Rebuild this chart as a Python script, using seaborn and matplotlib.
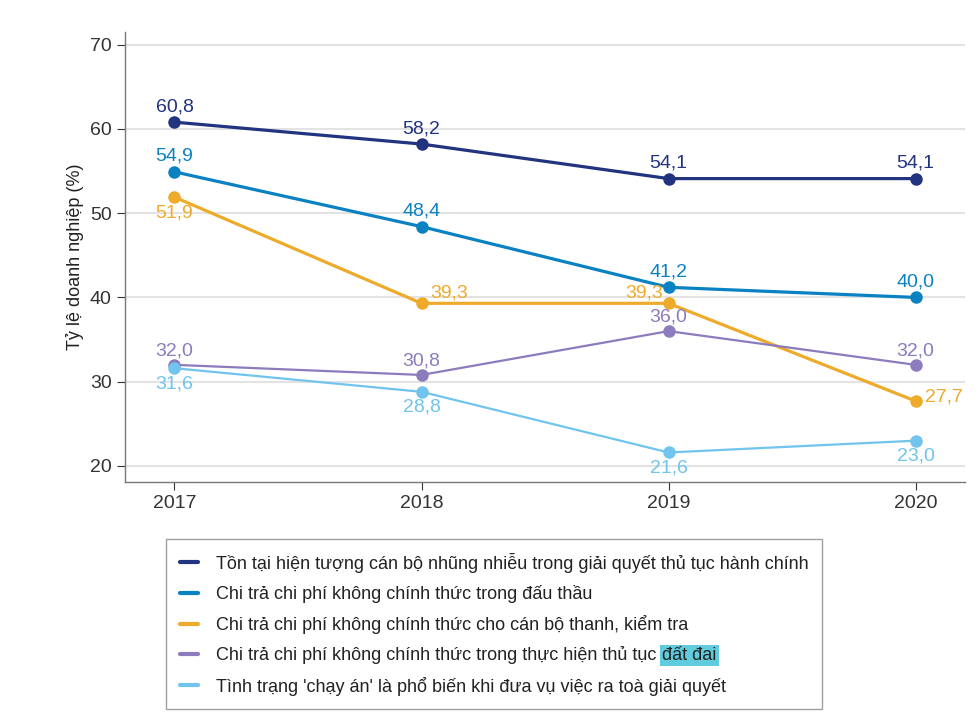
import pandas as pd
import matplotlib
matplotlib.use('Agg')
import matplotlib.pyplot as plt
from matplotlib.lines import Line2D
import seaborn as sns

# Datos
years = [2017, 2018, 2019, 2020]
series_names = [
    "Tồn tại hiện tượng cán bộ nhũng nhiễu trong giải quyết thủ tục hành chính",
    "Chi trả chi phí không chính thức trong đấu thầu",
    "Chi trả chi phí không chính thức cho cán bộ thanh, kiểm tra",
    "Chi trả chi phí không chính thức trong thực hiện thủ tục đất đai",
    "Tình trạng 'chạy án' là phổ biến khi đưa vụ việc ra toà giải quyết",
]
nhung_nhieu = [60.8, 58.2, 54.1, 54.1]
dau_thau = [54.9, 48.4, 41.2, 40.0]
thanh_tra = [51.9, 39.3, 39.3, 27.7]
dat_dai = [32.0, 30.8, 36.0, 32.0]
chay_an = [31.6, 28.8, 21.6, 23.0]
all_values = [nhung_nhieu, dau_thau, thanh_tra, dat_dai, chay_an]
y_ticks = [20, 30, 40, 50, 60, 70]

colors = ["#22337f", "#0a82c2", "#eeab2b", "#8c7bbd", "#70c4ee"]
widths = [2.3, 2.3, 2.3, 1.6, 1.6]

rows = []
for name, vals in zip(series_names, all_values):
    for y, v in zip(years, vals):
        rows.append({"Năm": y, "Giá trị": v, "Chỉ tiêu": name})
df = pd.DataFrame(rows)

sns.set_theme(style="white")
fonts = ['Liberation Sans', 'DejaVu Sans']
plt.rcParams['font.family'] = fonts

fig = plt.figure(figsize=(9.8, 7.2), dpi=100)
ax = fig.add_axes([0.1276, 0.3306, 0.8571, 0.625])

for name, c, lw in zip(series_names, colors, widths):
    sub = df[df["Chỉ tiêu"] == name]
    sns.lineplot(data=sub, x="Năm", y="Giá trị", ax=ax, color=c, linewidth=lw,
                 marker="o", markersize=9, markeredgewidth=0, legend=False, zorder=3)

# Nhãn dữ liệu: (dx, dy, ha, va) theo điểm
placements = [
    [(0, 5, 'center', 'bottom')] * 4,
    [(0, 5, 'center', 'bottom')] * 4,
    [(0, -5, 'center', 'top'), (6, 1, 'left', 'bottom'), (-4, 1, 'right', 'bottom'), (7, 3, 'left', 'center')],
    [(0, 4, 'center', 'bottom')] * 4,
    [(0, -5, 'center', 'top')] * 4,
]
for vals, c, pl in zip(all_values, colors, placements):
    for x, v, (dx, dy, ha, va) in zip(years, vals, pl):
        ax.annotate(f"{v:.1f}".replace(".", ","), (x, v), xytext=(dx, dy),
                    textcoords="offset points", ha=ha, va=va, color=c, fontsize=14,
                    zorder=4)

ax.set_xlim(2016.8, 2020.2)
ax.set_ylim(18.1, 71.5)
ax.set_xticks(years)
ax.set_yticks(y_ticks)
ax.set_xlabel("")
ax.set_ylabel("Tỷ lệ doanh nghiệp (%)", fontsize=13, color="#222222")
ax.tick_params(axis='both', labelsize=14, colors="#333333", direction='out',
               length=6, width=0.8, left=True, bottom=True)
ax.yaxis.grid(True, color="#e3e3e3", linewidth=1.5)
ax.set_axisbelow(True)
for s in ["top", "right"]:
    ax.spines[s].set_visible(False)
for s in ["left", "bottom"]:
    ax.spines[s].set_color("#777777")
    ax.spines[s].set_linewidth(1.0)

# Chú thích: nhãn thứ 4 tách phần "đất đai" để tô nền
legend_labels = list(series_names)
legend_labels[3] = "Chi trả chi phí không chính thức trong thực hiện thủ tục"
handles = [Line2D([0], [0], color=c, linewidth=3) for c in colors]
leg = fig.legend(handles, legend_labels, loc="upper left",
                 bbox_to_anchor=(166 / 980, 1 - 539 / 720),
                 frameon=True, fancybox=False, fontsize=13, handlelength=1.0,
                 handletextpad=1.0, labelspacing=0.68, borderpad=0.75, borderaxespad=0)
leg.get_frame().set_edgecolor("#888888")
leg.get_frame().set_linewidth(1.0)
for t in leg.get_texts():
    t.set_color("#222222")

fig.canvas.draw()
bb = leg.get_texts()[3].get_window_extent()
fig.text((bb.x1 + 6) / 980, (bb.y0 + bb.y1) / 2 / 720, "đất đai", fontsize=13,
         color="#222222", ha="left", va="center", zorder=10,
         bbox=dict(facecolor="#5fcbdc", edgecolor="none", pad=1.5))

fig.savefig("out.png", dpi=100)
